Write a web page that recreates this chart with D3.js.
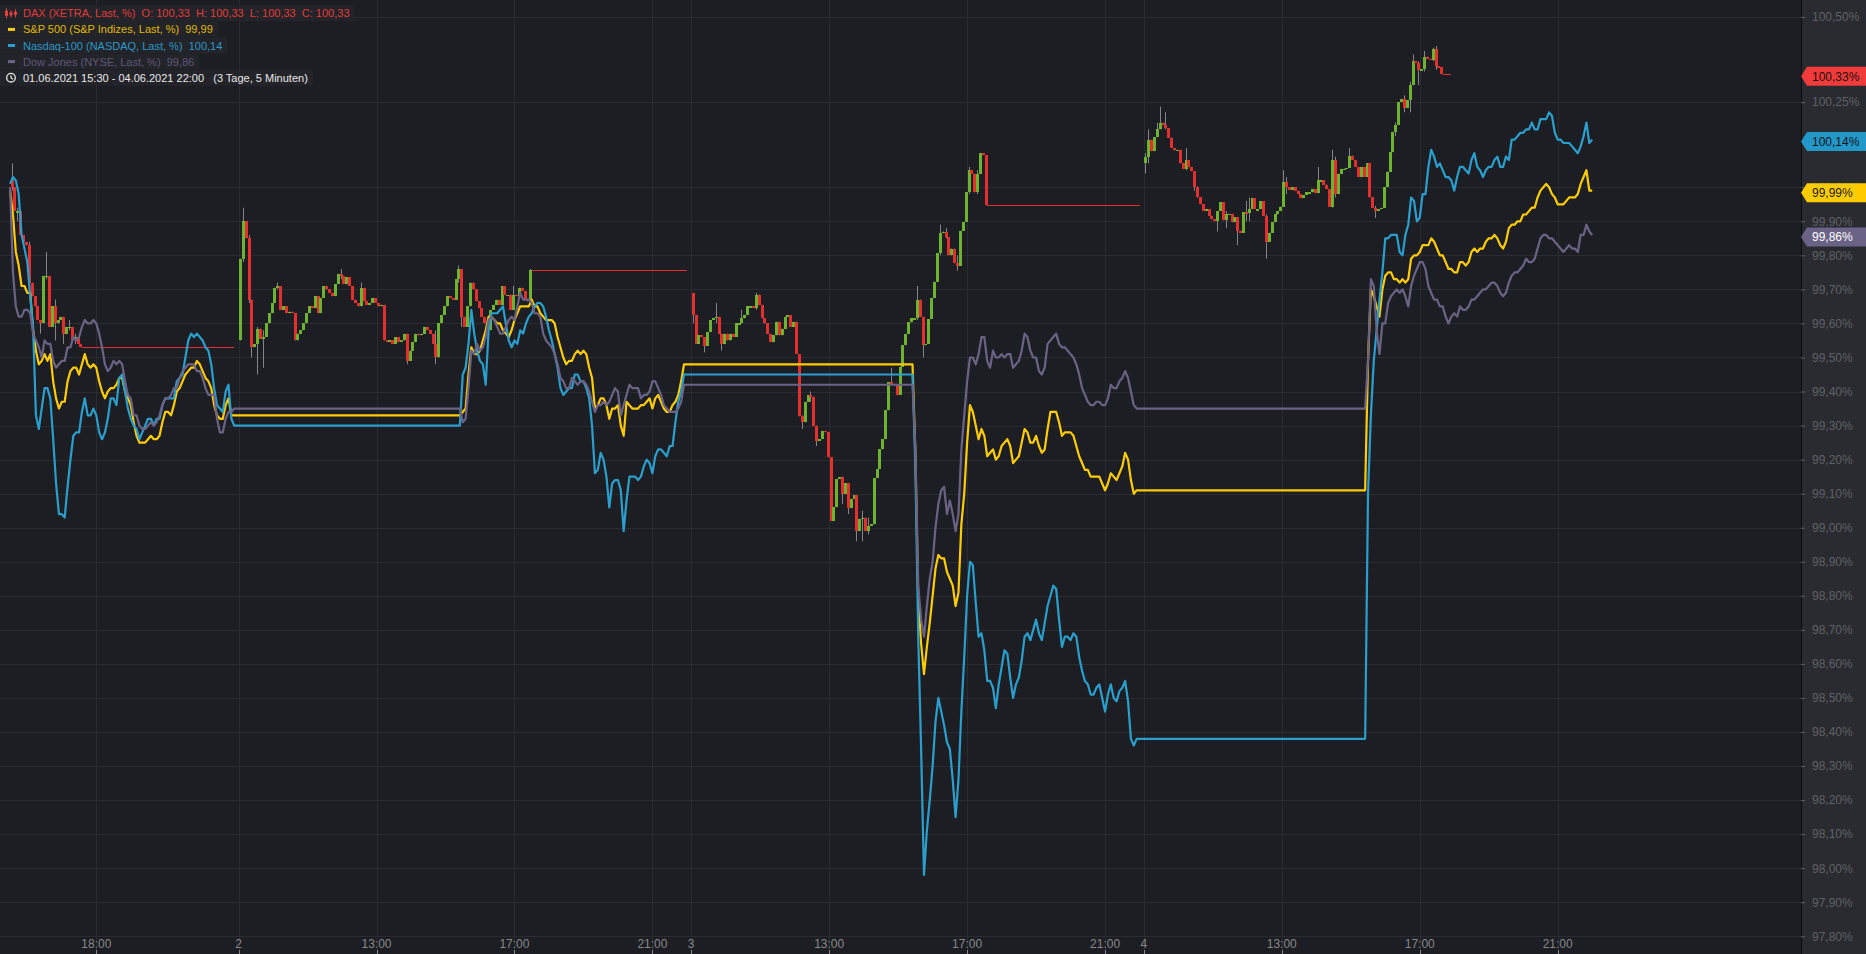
<!DOCTYPE html>
<html><head><meta charset="utf-8">
<script src="https://cdn.jsdelivr.net/npm/d3@7/dist/d3.min.js"></script>
<style>
html,body{margin:0;padding:0;background:#1c1e23;overflow:hidden}
svg{display:block}
text{font-family:"Liberation Sans",Arial,sans-serif}
</style></head><body>
<svg id="chart" width="1866" height="954"></svg>
<script>
// ---------------- DATA ----------------
// DAX 5-minute candles (percent of reference), open of each bar = previous close
const daxStart = ["15:30","09:00","09:00","09:00"];
const daxOpen  = [100.02, 99.55, 99.69, 100.07];
const daxClose1 = [100.00,99.93,99.93,99.86,99.84,99.83,99.72,99.68,99.65,99.61,99.60,99.74,99.74,99.59,99.65,99.60,99.61,99.62,99.57,99.59,99.59,99.55,99.56,99.54,99.53];
const daxClose2 = [99.79,99.90,99.85,99.67,99.53,99.54,99.585,99.555,99.56,99.60,99.63,99.66,99.705,99.71,99.64,99.65,99.63,99.635,99.63,99.55,99.57,99.58,99.60,99.63,99.65,99.645,99.68,99.63,99.675,99.71,99.70,99.69,99.68,99.715,99.745,99.74,99.715,99.735,99.71,99.67,99.66,99.65,99.705,99.665,99.655,99.66,99.675,99.66,99.65,99.655,99.55,99.545,99.55,99.54,99.56,99.545,99.55,99.57,99.49,99.52,99.545,99.57,99.565,99.57,99.59,99.58,99.57,99.54,99.50,99.60,99.625,99.65,99.68,99.675,99.67,99.73,99.76,99.62,99.59,99.65,99.72,99.70,99.665,99.645,99.62,99.60,99.58,99.64,99.655,99.67,99.655,99.71,99.685,99.685,99.64,99.685,99.68,99.705,99.695,99.67,99.665,99.757];
const daxClose3 = [99.625,99.54,99.565,99.56,99.535,99.575,99.61,99.615,99.62,99.57,99.54,99.57,99.55,99.57,99.56,99.60,99.60,99.615,99.625,99.65,99.65,99.645,99.685,99.655,99.615,99.60,99.57,99.545,99.565,99.605,99.565,99.585,99.62,99.625,99.59,99.605,99.51,99.327,99.31,99.37,99.39,99.385,99.30,99.256,99.26,99.285,99.28,99.207,99.02,99.06,99.143,99.148,99.10,99.13,99.057,99.085,99.095,98.99,99.025,99.03,98.99,99.005,99.01,99.146,99.173,99.23,99.26,99.345,99.428,99.423,99.418,99.39,99.473,99.536,99.57,99.603,99.615,99.615,99.67,99.62,99.536,99.54,99.613,99.674,99.723,99.806,99.865,99.87,99.853,99.80,99.82,99.777,99.77,99.872,99.898,99.985,100.05,100.04,99.985,100.04,100.10,100.094,99.947];
const daxClose4 = [100.088,100.14,100.106,100.147,100.17,100.19,100.183,100.174,100.146,100.115,100.108,100.11,100.07,100.055,100.08,100.06,100.047,100.002,99.97,99.95,99.93,99.936,99.916,99.906,99.90,99.93,99.956,99.903,99.92,99.922,99.897,99.912,99.872,99.867,99.926,99.924,99.936,99.968,99.936,99.936,99.959,99.916,99.84,99.867,99.897,99.92,99.93,99.943,100.015,100.0,99.993,100.0,99.99,99.98,99.968,99.977,99.985,99.985,99.995,99.982,100.02,100.02,100.008,99.995,99.943,100.08,99.98,100.04,100.054,100.055,100.057,100.093,100.08,100.06,100.03,100.06,100.03,100.07,99.97,99.94,99.93,99.936,99.94,100.0,100.046,100.103,100.163,100.184,100.25,100.258,100.234,100.255,100.30,100.37,100.366,100.345,100.347,100.384,100.377,100.374,100.406,100.355,100.352,100.332];
// visible wicks: [bar, high, low]
const daxWicks1 = [[0,100.07,99.99],[2,99.94,99.90],[6,99.84,99.71],[10,99.61,99.57],[12,99.81,99.73],[15,99.67,99.55],[18,99.62,99.54],[20,99.61,99.58],[22,99.57,99.54]];
const daxWicks2 = [[1,99.94,99.78],[3,99.86,99.66],[4,99.67,99.50],[6,99.59,99.45],[8,99.58,99.47],[13,99.72,99.70],[35,99.76,99.73],[42,99.72,99.66],[58,99.57,99.48],[68,99.58,99.48],[76,99.77,99.72],[77,99.76,99.59],[95,99.71,99.66],[101,99.76,99.66]];
const daxWicks3 = [[0,99.69,99.60],[4,99.56,99.515],[8,99.66,99.60],[10,99.57,99.52],[17,99.64,99.60],[22,99.69,99.64],[38,99.33,99.29],[41,99.40,99.37],[43,99.30,99.24],[52,99.15,99.07],[54,99.13,99.04],[57,99.09,98.96],[59,99.05,98.96],[61,99.03,98.98],[69,99.47,99.42],[78,99.71,99.61],[80,99.62,99.50],[86,99.89,99.80],[88,99.88,99.85],[92,99.80,99.755],[96,100.06,99.98],[99,100.05,99.98]];
const daxWicks4 = [[0,100.10,100.04],[1,100.17,100.07],[4,100.19,100.15],[5,100.237,100.17],[7,100.22,100.17],[14,100.115,100.05],[17,100.04,99.99],[25,99.93,99.87],[28,99.93,99.88],[32,99.91,99.83],[35,99.96,99.90],[36,99.97,99.90],[42,99.92,99.79],[48,100.05,100.0],[49,100.03,99.98],[60,100.06,100.0],[65,100.11,99.94],[66,100.09,99.97],[71,100.115,100.09],[80,99.945,99.91],[87,100.19,100.15],[90,100.27,100.22],[92,100.31,100.22],[93,100.39,100.30],[95,100.37,100.30],[97,100.40,100.34],[100,100.41,100.37],[101,100.415,100.345]];
const daxFlatEnd = ["22:00","22:00","22:00","17:55"];

// US indices, 5-minute values from 15:30 to 22:00 each day
const usStart = "15:30";
const spx1 = [99.99,99.92,99.81,99.77,99.71,99.71,99.69,99.69,99.58,99.52,99.48,99.49,99.51,99.49,99.51,99.43,99.38,99.35,99.37,99.37,99.43,99.46,99.47,99.47,99.45,99.48,99.51,99.48,99.47,99.48,99.47,99.43,99.40,99.38,99.40,99.41,99.41,99.42,99.44,99.44,99.40,99.38,99.36,99.31,99.27,99.25,99.25,99.25,99.26,99.27,99.26,99.26,99.27,99.31,99.34,99.34,99.33,99.36,99.40,99.41,99.43,99.45,99.46,99.47,99.47,99.49,99.48,99.46,99.44,99.43,99.41,99.36,99.33,99.32,99.32,99.36,99.38,99.33,99.33];
const spx2 = [99.34,99.35,99.45,99.53,99.51,99.51,99.52,99.55,99.58,99.62,99.62,99.61,99.60,99.60,99.58,99.57,99.56,99.58,99.61,99.63,99.65,99.65,99.65,99.65,99.67,99.65,99.65,99.63,99.62,99.61,99.61,99.61,99.60,99.56,99.53,99.50,99.48,99.49,99.49,99.51,99.52,99.51,99.52,99.51,99.47,99.44,99.35,99.36,99.38,99.38,99.36,99.32,99.35,99.35,99.36,99.30,99.27,99.37,99.36,99.35,99.35,99.35,99.36,99.36,99.37,99.38,99.35,99.38,99.39,99.37,99.35,99.34,99.34,99.36,99.37,99.39,99.43,99.48,99.48];
const spx3 = [99.22,98.79,98.66,98.57,98.65,98.72,98.80,98.88,98.92,98.91,98.91,98.87,98.85,98.83,98.77,98.81,99.01,99.10,99.25,99.36,99.34,99.30,99.26,99.29,99.27,99.21,99.22,99.23,99.20,99.21,99.24,99.25,99.26,99.24,99.19,99.20,99.21,99.25,99.29,99.28,99.25,99.25,99.27,99.24,99.22,99.23,99.29,99.34,99.34,99.34,99.31,99.27,99.28,99.28,99.28,99.27,99.24,99.21,99.19,99.17,99.17,99.15,99.15,99.15,99.15,99.13,99.11,99.13,99.16,99.15,99.14,99.16,99.18,99.22,99.20,99.14,99.10,99.11,99.11];
const spx4 = [99.49,99.70,99.68,99.65,99.62,99.70,99.74,99.75,99.75,99.73,99.73,99.72,99.73,99.72,99.73,99.79,99.80,99.80,99.81,99.83,99.83,99.83,99.85,99.84,99.82,99.80,99.80,99.78,99.76,99.76,99.75,99.75,99.78,99.78,99.77,99.78,99.81,99.82,99.81,99.82,99.82,99.84,99.85,99.85,99.86,99.85,99.83,99.82,99.84,99.88,99.89,99.89,99.90,99.90,99.92,99.92,99.93,99.94,99.94,99.97,99.99,100.00,100.01,100.00,99.98,99.97,99.95,99.95,99.95,99.96,99.97,99.97,99.97,99.98,100.01,100.03,100.05,99.99,99.99];
const ndx1 = [100.01,100.03,100.02,99.98,99.86,99.82,99.78,99.68,99.59,99.33,99.29,99.35,99.41,99.41,99.38,99.26,99.13,99.04,99.04,99.03,99.12,99.20,99.27,99.28,99.28,99.34,99.38,99.33,99.33,99.35,99.33,99.28,99.26,99.28,99.32,99.38,99.38,99.36,99.44,99.45,99.40,99.35,99.32,99.30,99.29,99.26,99.28,99.30,99.32,99.32,99.30,99.32,99.32,99.36,99.38,99.38,99.38,99.38,99.43,99.44,99.45,99.50,99.55,99.57,99.56,99.57,99.56,99.55,99.53,99.52,99.48,99.41,99.36,99.35,99.34,99.40,99.42,99.32,99.30];
const ndx2 = [99.45,99.47,99.54,99.64,99.57,99.52,99.49,99.48,99.42,99.58,99.63,99.63,99.63,99.64,99.65,99.60,99.55,99.53,99.55,99.54,99.58,99.57,99.60,99.62,99.63,99.65,99.66,99.66,99.65,99.62,99.58,99.55,99.51,99.47,99.41,99.39,99.40,99.41,99.41,99.45,99.45,99.43,99.43,99.41,99.38,99.30,99.16,99.17,99.22,99.20,99.15,99.06,99.13,99.14,99.14,99.11,98.99,99.08,99.15,99.15,99.15,99.14,99.15,99.18,99.20,99.19,99.16,99.21,99.23,99.23,99.22,99.21,99.24,99.24,99.31,99.37,99.40,99.45,99.45];
const ndx3 = [99.18,98.68,98.35,97.98,98.11,98.20,98.30,98.43,98.50,98.46,98.42,98.37,98.35,98.26,98.15,98.26,98.46,98.62,98.80,98.90,98.89,98.78,98.68,98.69,98.64,98.55,98.55,98.53,98.47,98.54,98.59,98.64,98.63,98.56,98.50,98.54,98.56,98.61,98.68,98.69,98.67,98.70,98.73,98.69,98.67,98.72,98.77,98.80,98.83,98.82,98.73,98.65,98.68,98.68,98.67,98.69,98.68,98.62,98.58,98.55,98.54,98.51,98.51,98.53,98.54,98.50,98.46,98.51,98.54,98.50,98.49,98.52,98.53,98.55,98.49,98.38,98.36,98.38,98.38];
const ndx4 = [99.10,99.33,99.49,99.58,99.67,99.75,99.85,99.85,99.86,99.86,99.86,99.81,99.80,99.86,99.89,99.97,99.96,99.90,99.91,99.98,99.98,100.06,100.11,100.09,100.06,100.07,100.05,100.03,100.03,100.02,99.99,100.03,100.06,100.06,100.05,100.04,100.08,100.10,100.06,100.05,100.03,100.05,100.06,100.06,100.08,100.09,100.06,100.06,100.09,100.08,100.14,100.14,100.15,100.16,100.16,100.17,100.17,100.19,100.17,100.17,100.20,100.20,100.20,100.22,100.21,100.16,100.14,100.14,100.13,100.13,100.13,100.12,100.11,100.10,100.12,100.15,100.19,100.13,100.14];
const dji1 = [100.00,99.75,99.65,99.62,99.62,99.64,99.64,99.63,99.57,99.55,99.53,99.50,99.55,99.54,99.54,99.49,99.47,99.48,99.49,99.49,99.53,99.53,99.56,99.55,99.56,99.59,99.61,99.60,99.60,99.61,99.60,99.57,99.53,99.48,99.46,99.47,99.49,99.48,99.49,99.48,99.43,99.39,99.38,99.33,99.33,99.30,99.29,99.29,99.30,99.31,99.30,99.31,99.33,99.36,99.38,99.38,99.39,99.41,99.41,99.44,99.46,99.47,99.48,99.48,99.48,99.46,99.46,99.44,99.41,99.39,99.39,99.39,99.32,99.28,99.28,99.32,99.34,99.34,99.35];
const dji2 = [99.31,99.32,99.41,99.52,99.51,99.54,99.52,99.53,99.56,99.61,99.62,99.61,99.59,99.57,99.57,99.59,99.61,99.62,99.61,99.65,99.69,99.67,99.67,99.67,99.66,99.63,99.63,99.62,99.57,99.55,99.54,99.53,99.51,99.48,99.44,99.43,99.41,99.41,99.44,99.43,99.42,99.43,99.43,99.42,99.40,99.37,99.34,99.36,99.36,99.37,99.36,99.37,99.39,99.41,99.40,99.33,99.36,99.39,99.42,99.41,99.41,99.41,99.38,99.39,99.39,99.40,99.43,99.43,99.41,99.39,99.36,99.35,99.34,99.34,99.34,99.35,99.37,99.42,99.42];
const dji3 = [99.24,98.83,98.73,98.68,98.77,98.85,98.90,99.00,99.07,99.11,99.12,99.04,99.08,99.04,98.99,99.04,99.23,99.33,99.43,99.50,99.50,99.48,99.51,99.56,99.56,99.49,99.47,99.52,99.50,99.50,99.51,99.50,99.51,99.51,99.47,99.48,99.49,99.52,99.57,99.56,99.52,99.50,99.50,99.46,99.45,99.47,99.54,99.55,99.56,99.57,99.54,99.53,99.53,99.52,99.51,99.50,99.48,99.45,99.41,99.39,99.37,99.36,99.36,99.37,99.37,99.36,99.36,99.38,99.42,99.41,99.41,99.43,99.44,99.46,99.44,99.40,99.36,99.35,99.35];
const dji4 = [99.49,99.73,99.71,99.58,99.51,99.60,99.60,99.66,99.68,99.69,99.70,99.69,99.70,99.68,99.65,99.71,99.74,99.76,99.78,99.78,99.76,99.71,99.69,99.67,99.67,99.65,99.65,99.62,99.60,99.62,99.63,99.62,99.65,99.64,99.64,99.65,99.67,99.67,99.68,99.69,99.70,99.70,99.71,99.72,99.72,99.71,99.69,99.68,99.69,99.72,99.74,99.75,99.75,99.76,99.77,99.79,99.78,99.78,99.79,99.82,99.85,99.86,99.86,99.85,99.85,99.84,99.83,99.82,99.81,99.82,99.83,99.82,99.82,99.81,99.86,99.86,99.89,99.87,99.86];

// axes
const yTicks = [100.50,100.25,100.00,99.90,99.80,99.70,99.60,99.50,99.40,99.30,99.20,99.10,99.00,98.90,98.80,98.70,98.60,98.50,98.40,98.30,98.20,98.10,98.00,97.90,97.80];
const xTickDays   = [1,2,2,2,2,3,3,3,3,4,4,4,4];
const xTickTimes  = ["18:00","09:00","13:00","17:00","21:00","09:00","13:00","17:00","21:00","09:00","13:00","17:00","21:00"];
const xTickLabels = ["18:00","2","13:00","17:00","21:00","3","13:00","17:00","21:00","4","13:00","17:00","21:00"];
const rangeText = "01.06.2021 15:30 - 04.06.2021 22:00   (3 Tage, 5 Minuten)";

// ---------------- LAYOUT ----------------
const W = 1866, H = 954, PW = 1801;
const C = {bg:"#1c1e23", grid:"#2a2c31", panel:"#2a2b30", axisText:"#5e6166",
  up:"#6db32f", down:"#e3302e", wick:"#858585",
  spx:"#ffcc00", ndx:"#2a9fcd", dji:"#6b6385"};
const hoursPerDay = 13.125; // session axis: 09:00 - 22:07:30, nights removed
function tOf(day, hm){ const p = hm.split(":").map(Number); return (day-1)*hoursPerDay + p[0] + p[1]/60 - 9; }
const x = d3.scaleLinear().domain([6.2077, 58.43]).range([0, PW]);
const y = d3.scaleLinear().domain([97.748, 100.55]).range([H, 0]);
const fmt = v => v.toFixed(2).replace(".", ",");

const svg = d3.select("#chart");
svg.append("rect").attr("width", W).attr("height", H).attr("fill", C.bg);
svg.append("defs").append("clipPath").attr("id","plotclip").append("rect").attr("width", PW).attr("height", H);

// grid
const grid = svg.append("g").attr("shape-rendering","crispEdges");
grid.selectAll("line.h").data(yTicks).join("line").attr("class","h")
  .attr("x1",0).attr("x2",PW).attr("y1",d=>Math.round(y(d))+0.5).attr("y2",d=>Math.round(y(d))+0.5)
  .attr("stroke",C.grid);
const xTicks = xTickDays.map((d,i)=>({t:tOf(d,xTickTimes[i]), label:xTickLabels[i]}));
grid.selectAll("line.v").data(xTicks).join("line").attr("class","v")
  .attr("x1",d=>Math.round(x(d.t))+0.5).attr("x2",d=>Math.round(x(d.t))+0.5).attr("y1",0).attr("y2",H)
  .attr("stroke",C.grid);

const plot = svg.append("g").attr("clip-path","url(#plotclip)");

// DAX candles
const daxCloses = [daxClose1, daxClose2, daxClose3, daxClose4];
const daxWicks = [daxWicks1, daxWicks2, daxWicks3, daxWicks4];
const bars = [];
const flats = [];
daxCloses.forEach((arr, di) => {
  const day = di+1, t0 = tOf(day, daxStart[di]);
  const wm = new Map(daxWicks[di].map(w => [w[0], w]));
  arr.forEach((c, k) => {
    const o = k === 0 ? daxOpen[di] : arr[k-1];
    const w = wm.get(k);
    const hi = Math.max(o, c, w ? w[1] : -Infinity), lo = Math.min(o, c, w ? w[2] : Infinity);
    bars.push({t: t0 + (k+0.5)/12, o, c, hi, lo});
  });
  flats.push({t1: t0 + arr.length/12, t2: tOf(day, daxFlatEnd[di]), v: arr[arr.length-1]});
});
plot.append("g").selectAll("line").data(flats).join("line")
  .attr("x1",d=>x(d.t1)).attr("x2",d=>x(d.t2)).attr("y1",d=>Math.round(y(d.v))+0.5).attr("y2",d=>Math.round(y(d.v))+0.5)
  .attr("stroke",C.down).attr("stroke-width",1).attr("shape-rendering","crispEdges");
plot.append("g").selectAll("line").data(bars).join("line")
  .attr("x1",d=>Math.round(x(d.t))+0.5).attr("x2",d=>Math.round(x(d.t))+0.5)
  .attr("y1",d=>y(d.hi)).attr("y2",d=>y(d.lo)).attr("stroke",C.wick).attr("stroke-width",1);
plot.append("g").attr("shape-rendering","crispEdges").selectAll("rect").data(bars).join("rect")
  .attr("x",d=>Math.round(x(d.t))-1).attr("width",2.8)
  .attr("y",d=>y(Math.max(d.o,d.c)))
  .attr("height",d=>Math.max(1.5, Math.abs(y(d.o)-y(d.c))))
  .attr("fill",d=>d.c>=d.o?C.up:C.down);

// US lines
function buildSeries(days){
  const pts = [];
  days.forEach((arr, di) => {
    const t0 = tOf(di+1, usStart);
    if (pts.length) pts.push([t0 - 1/12, pts[pts.length-1][1]]);
    arr.forEach((v, j) => pts.push([t0 + j/12, v]));
  });
  return pts;
}
const series = [
  {pts: buildSeries([spx1,spx2,spx3,spx4]), color: C.spx},
  {pts: buildSeries([ndx1,ndx2,ndx3,ndx4]), color: C.ndx},
  {pts: buildSeries([dji1,dji2,dji3,dji4]), color: C.dji}
];
const line = d3.line().x(d=>x(d[0])).y(d=>y(d[1]));
plot.append("g").selectAll("path").data(series).join("path")
  .attr("d",d=>line(d.pts)).attr("fill","none").attr("stroke",d=>d.color)
  .attr("stroke-width",2.2).attr("stroke-linejoin","round");

// right axis panel
svg.append("rect").attr("x",PW).attr("y",0).attr("width",W-PW).attr("height",H).attr("fill",C.panel);
svg.append("line").attr("x1",PW+0.5).attr("x2",PW+0.5).attr("y1",0).attr("y2",H).attr("stroke","#0b0c0e").attr("shape-rendering","crispEdges");
const yAxis = d3.axisRight(y).tickValues(yTicks).tickSize(4).tickPadding(7).tickFormat(d=>fmt(d)+"%");
const ya = svg.append("g").attr("transform",`translate(${PW},0)`).call(yAxis);
ya.select(".domain").remove();
ya.selectAll(".tick line").attr("stroke",C.axisText);
ya.selectAll(".tick text").attr("fill",C.axisText).attr("font-size",12).attr("font-family","'Liberation Sans',Arial,sans-serif");

// bottom axis labels
const xa = svg.append("g");
xa.selectAll("text").data(xTicks).join("text")
  .attr("x",d=>x(d.t)).attr("y",948).attr("text-anchor","middle")
  .attr("fill","#86888c").attr("font-size",12).text(d=>d.label);
xa.selectAll("line").data(xTicks).join("line")
  .attr("x1",d=>Math.round(x(d.t))+0.5).attr("x2",d=>Math.round(x(d.t))+0.5).attr("y1",950).attr("y2",H)
  .attr("stroke","#86888c").attr("shape-rendering","crispEdges");

// last value badges
const daxLast = daxClose4[daxClose4.length-1];
const spxLast = spx4[spx4.length-1], ndxLast = ndx4[ndx4.length-1], djiLast = dji4[dji4.length-1];
const badges = [
  {v: djiLast, fill: C.dji, tc: "#ffffff"},
  {v: spxLast, fill: C.spx, tc: "#1a1a1a"},
  {v: ndxLast, fill: "#2398c8", tc: "#101418"},
  {v: daxLast, fill: "#f23b3b", tc: "#1a1010"}
];
const bg = svg.append("g").selectAll("g").data(badges).join("g").attr("transform",d=>`translate(${PW},${y(d.v)+2})`);
bg.append("path").attr("d","M0,0 L6,-9.5 L65,-9.5 L65,9.5 L6,9.5 Z").attr("fill",d=>d.fill);
bg.append("text").attr("x",11).attr("y",4.3).attr("font-size",12).attr("fill",d=>d.tc).text(d=>fmt(d.v)+"%");

// legend
const legendRows = [
  {icon:"candle", color:"#e8403c", tc:"#e23b39", text:`DAX (XETRA, Last, %)  O: ${fmt(daxLast)}  H: ${fmt(daxLast)}  L: ${fmt(daxLast)}  C: ${fmt(daxLast)}`},
  {icon:"dash", color:C.spx, tc:"#e0b800", text:`S&P 500 (S&P Indizes, Last, %)  ${fmt(spxLast)}`},
  {icon:"dash", color:C.ndx, tc:"#2a98c6", text:`Nasdaq-100 (NASDAQ, Last, %)  ${fmt(ndxLast)}`},
  {icon:"dash", color:C.dji, tc:"#5f5875", text:`Dow Jones (NYSE, Last, %)  ${fmt(djiLast)}`},
  {icon:"clock", color:"#e8e8e8", tc:"#e8e8e8", text:rangeText}
];
const lg = svg.append("g");
legendRows.forEach((r, i) => {
  const cy = 13.3 + 16.1*i;
  const g = lg.append("g").attr("transform",`translate(0,${cy})`);
  const box = g.append("rect").attr("x",0).attr("y",-8).attr("height",16).attr("fill","#24262b").attr("opacity",0.85);
  const t = g.append("text").attr("x",23).attr("y",4).attr("font-size",11).attr("fill",r.tc)
    .style("white-space","pre").text(r.text);
  box.attr("width", 23 + t.node().getComputedTextLength() + 5);
  if (r.icon === "dash") {
    g.append("rect").attr("x",8).attr("y",-1.5).attr("width",7).attr("height",3).attr("fill",r.color);
  } else if (r.icon === "clock") {
    g.append("circle").attr("cx",11).attr("cy",0).attr("r",4.3).attr("fill","none").attr("stroke",r.color).attr("stroke-width",1.3);
    g.append("path").attr("d","M11,-2.5 L11,0 L13,1.6").attr("fill","none").attr("stroke",r.color).attr("stroke-width",1.2);
  } else {
    const ic = g.append("g").attr("stroke",r.color).attr("fill",r.color);
    [[6.5,-5,5,-2.5,2.5],[11,-3,4,-1,2],[15.5,-4,4,-1.5,1.5]].forEach(c => {
      ic.append("line").attr("x1",c[0]).attr("x2",c[0]).attr("y1",c[1]).attr("y2",c[2]).attr("stroke-width",1);
      ic.append("rect").attr("x",c[0]-1.5).attr("y",c[3]).attr("width",3).attr("height",c[4]-c[3]).attr("stroke","none");
    });
  }
});
</script>
</body></html>
